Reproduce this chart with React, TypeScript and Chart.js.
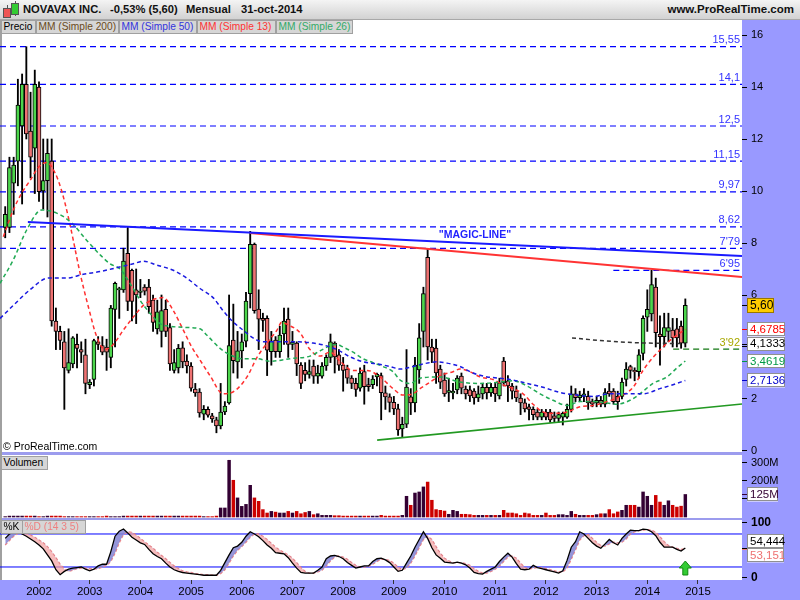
import React, { useEffect, useRef } from 'react';
import { Chart, registerables } from 'chart.js';

Chart.register(...registerables);

const FONT = '"Liberation Sans", Arial, Helvetica, sans-serif';
Chart.defaults.font.family = FONT;
Chart.defaults.font.size = 11;
Chart.defaults.color = '#000';

// ---------------- DATA ----------------
const firstYear = 2001;
const firstMonth = 5; // May 2001, monthly candles
const yearTicks = [2002, 2003, 2004, 2005, 2006, 2007, 2008, 2009, 2010, 2011, 2012, 2013, 2014, 2015];
const priceTicks = [0, 2, 4, 6, 8, 10, 12, 14, 16];
const volumeTicks = [100, 200, 300];
const stochTicks = [0, 100];

const opens = [
  8.6, 8.6, 10.3, 11.15, 12.5, 14.1, 12.3, 11.65, 14.0, 10.0,
  10.4, 11.15, 5.0, 4.6, 4.2, 3.1, 3.35, 4.1, 3.9, 3.7,
  2.55, 2.75, 4.2, 4.05, 4.0, 3.6, 5.45, 6.2, 6.2, 7.6,
  6.95, 6.2, 6.1, 6.3, 6.3, 5.8, 4.7, 4.6, 5.45, 4.75,
  3.1, 3.2, 3.97, 3.46, 3.27, 2.38, 2.27, 1.42, 1.6, 1.35,
  1.2, 0.96, 1.5, 1.85, 4.27, 3.43, 3.85, 4.22, 6.05, 7.95,
  5.46, 5.1, 5.1, 3.82, 4.27, 3.82, 4.5, 5.07, 4.1, 4.15,
  3.3, 3.1, 2.95, 3.27, 2.88, 2.88, 3.27, 3.6, 4.15, 3.7,
  3.3, 3.15, 2.8, 2.6, 2.42, 3.05, 2.55, 2.55, 2.85, 2.9,
  2.24, 2.08, 1.87, 1.62, 0.85, 1.03, 2.08, 1.85, 3.12, 4.6,
  7.45, 4.0, 3.96, 3.15, 2.73, 2.25, 2.23, 2.35, 2.88, 2.38,
  2.35, 2.3, 2.04, 2.2, 2.45, 2.23, 2.45, 2.12, 3.46, 2.7,
  2.5, 2.3, 2.04, 1.85, 1.7, 1.6, 1.5, 1.3, 1.5, 1.5,
  1.35, 1.25, 1.3, 1.3, 1.6, 2.2, 2.05, 2.1, 2.1, 1.9,
  1.85, 1.95, 1.8, 2.3, 2.3, 2.1, 2.1, 2.75, 3.25, 3.1,
  3.05, 3.75, 5.15, 5.27, 6.3, 4.5, 4.4, 4.6, 4.65, 4.7,
  4.8, 4.15,
];
const highs = [
  9.4, 11.3, 11.3, 14.3, 14.5, 15.55, 13.8, 14.65, 14.2, 12.0,
  12.0, 12.0, 5.5, 4.8, 4.6, 4.7, 4.4, 4.5, 4.2, 4.3,
  2.75, 4.3, 4.4, 4.4, 4.3, 5.6, 6.5, 6.3, 7.8, 8.62,
  7.0, 7.0, 6.6, 6.4, 6.6, 6.0, 5.8, 6.0, 5.8, 4.9,
  3.9, 4.1, 4.2, 3.7, 3.4, 2.6, 2.4, 1.75, 1.7, 1.45,
  1.3, 2.6, 1.9, 6.0, 5.65, 4.6, 4.5, 6.1, 8.45, 8.0,
  6.2, 5.3, 5.2, 4.6, 4.4, 4.8, 5.5, 5.5, 4.6, 4.2,
  3.4, 3.4, 3.5, 3.5, 3.3, 3.4, 3.7, 4.5, 4.2, 3.9,
  3.6, 3.3, 2.9, 2.8, 3.2, 3.3, 2.8, 2.9, 3.0, 3.0,
  2.5, 2.2, 2.1, 1.8, 1.3, 3.9, 2.4, 3.6, 4.9, 6.3,
  7.79, 4.3, 4.3, 3.3, 3.0, 2.8, 2.6, 2.9, 3.0, 2.5,
  2.5, 2.4, 2.5, 2.6, 2.6, 2.6, 2.6, 2.8, 3.6, 2.9,
  2.6, 2.5, 2.2, 2.0, 1.8, 1.7, 1.6, 1.6, 1.6, 1.6,
  1.5, 1.5, 1.5, 1.8, 2.5, 2.4, 2.3, 2.4, 2.3, 2.0,
  2.1, 2.1, 2.4, 2.6, 2.4, 2.3, 2.8, 3.4, 3.3, 3.2,
  3.9, 5.2, 6.2, 6.95, 6.65, 5.2, 5.3, 5.3, 5.1, 5.1,
  5.0, 5.85,
];
const lows = [
  8.2, 8.4, 9.1, 10.2, 9.5, 12.0, 10.5, 9.9, 9.6, 9.3,
  9.0, 4.8, 3.9, 3.9, 1.6, 3.0, 3.2, 3.2, 3.4, 2.2,
  2.4, 2.5, 3.9, 3.7, 3.1, 3.2, 4.0, 5.1, 6.1, 5.4,
  5.0, 4.9, 5.9, 6.0, 5.3, 4.6, 4.5, 4.0, 4.4, 3.1,
  3.0, 3.0, 3.2, 3.0, 2.3, 2.1, 1.3, 1.2, 1.3, 1.1,
  0.7, 0.85, 1.4, 1.8, 3.0, 2.8, 3.2, 4.0, 5.5, 5.3,
  3.9, 4.6, 2.9, 3.3, 3.6, 3.6, 4.1, 3.6, 3.9, 2.9,
  2.4, 2.7, 2.8, 2.6, 2.6, 2.8, 3.1, 3.4, 3.0, 3.1,
  2.3, 2.6, 2.4, 2.1, 2.3, 1.8, 2.3, 2.4, 2.5, 1.2,
  1.6, 1.5, 1.4, 0.6, 0.55, 0.9, 1.4, 1.5, 2.6, 4.0,
  3.5, 3.4, 2.6, 2.4, 2.1, 1.9, 2.0, 2.2, 2.2, 2.0,
  1.9, 1.8, 1.9, 2.0, 2.0, 2.1, 1.9, 2.0, 2.5, 1.9,
  2.0, 1.9, 1.4, 1.5, 1.2, 1.2, 1.2, 1.2, 1.2, 1.1,
  1.1, 1.1, 1.0, 1.25, 1.5, 1.9, 1.9, 1.9, 1.6, 1.7,
  1.7, 1.7, 1.7, 2.1, 1.8, 1.6, 2.0, 2.5, 2.8, 2.7,
  2.8, 3.5, 4.6, 5.0, 4.0, 3.3, 4.0, 4.2, 4.0, 4.0,
  3.95, 4.0,
];
const closes = [
  9.1, 10.9, 11.0, 13.3, 14.1, 12.2, 11.3, 14.1, 9.97, 10.4,
  11.45, 5.0, 4.6, 4.25, 3.2, 3.4, 4.35, 3.95, 3.8, 2.6,
  2.65, 4.25, 4.1, 3.8, 3.8, 5.5, 6.45, 6.25, 7.3, 5.75,
  5.75, 6.0, 6.15, 6.15, 5.55, 4.95, 5.35, 5.4, 4.6, 3.35,
  3.4, 3.95, 3.43, 3.27, 2.42, 2.23, 1.46, 1.6, 1.38, 1.23,
  0.96, 1.5, 1.73, 4.05, 3.47, 3.85, 4.2, 5.77, 7.95, 5.4,
  5.07, 5.02, 3.88, 4.23, 3.82, 4.46, 5.0, 4.1, 4.18, 3.35,
  2.6, 2.95, 3.05, 2.88, 3.0, 3.27, 3.6, 4.2, 3.62, 3.3,
  3.1, 2.8, 2.6, 2.37, 3.0, 2.47, 2.47, 2.77, 2.95, 2.24,
  2.08, 1.87, 1.62, 0.81, 1.03, 2.46, 1.85, 3.3, 4.35, 6.05,
  4.0, 3.8, 3.0, 2.65, 2.2, 2.32, 2.3, 2.8, 2.42, 2.2,
  2.12, 2.04, 2.2, 2.45, 2.23, 2.45, 2.2, 2.62, 2.62, 2.5,
  2.3, 2.04, 1.85, 1.62, 1.6, 1.4, 1.3, 1.5, 1.3, 1.2,
  1.25, 1.4, 1.45, 1.6, 2.2, 2.05, 2.15, 2.2, 1.85, 1.8,
  1.95, 1.8, 2.25, 2.2, 1.9, 1.9, 2.65, 3.15, 3.1, 3.05,
  3.7, 5.1, 5.45, 6.4, 4.55, 4.4, 4.75, 4.75, 4.35, 4.35,
  4.15, 5.6,
];
// monthly volume, millions
const volumes = [
  2, 5, 5, 5, 5, 5, 5, 5, 2, 2,
  5, 5, 5, 5, 2, 2, 2, 2, 2, 2,
  2, 2, 2, 2, 5, 2, 2, 2, 5, 5,
  5, 5, 5, 5, 5, 5, 5, 5, 5, 5,
  5, 5, 5, 5, 5, 5, 5, 2, 2, 2,
  5, 50, 50, 315, 204, 106, 59, 70, 176, 106,
  87, 41, 22, 31, 27, 22, 22, 31, 22, 31,
  18, 25, 31, 13, 18, 9, 9, 9, 7, 7,
  5, 5, 5, 5, 5, 5, 5, 5, 5, 9,
  5, 5, 5, 5, 9, 115, 65, 133, 139, 167,
  194, 93, 41, 37, 33, 15, 37, 31, 15, 15,
  13, 9, 9, 9, 9, 9, 9, 9, 37, 22,
  22, 18, 9, 22, 18, 9, 9, 9, 22, 9,
  9, 13, 13, 9, 31, 15, 9, 9, 9, 9,
  13, 18, 18, 41, 18, 28, 37, 65, 65, 65,
  55, 139, 115, 65, 120, 83, 65, 90, 65, 55,
  60, 125,
];
const stochK = [
  72, 80, 83, 84, 80, 76, 71, 66, 60, 53,
  42, 31, 15, 6, 12, 16, 18, 19, 20, 16,
  13, 16, 22, 25, 25, 48, 76, 85, 89, 82,
  74, 69, 64, 61, 52, 44, 39, 35, 27, 20,
  15, 12, 10, 9, 8, 7, 6, 5, 5, 5,
  5, 14, 28, 42, 55, 58, 65, 76, 84, 80,
  75, 68, 60, 54, 46, 45, 44, 37, 27, 18,
  10, 9, 9, 9, 14, 20, 35, 40, 41, 39,
  35, 28, 23, 18, 20, 22, 22, 30, 35, 36,
  33, 28, 20, 12, 14, 27, 40, 56, 70, 84,
  72, 55, 42, 36, 29, 28, 27, 29, 27, 24,
  18, 10, 8, 7, 12, 16, 20, 30, 38, 45,
  38, 26, 16, 15, 16, 23, 19, 17, 15, 13,
  11, 9, 13, 32, 56, 66, 84, 80, 72, 64,
  58, 54, 62, 70, 64, 60, 72, 80, 87, 86,
  86, 89, 88, 84, 77, 65, 56, 56, 56, 52,
  49, 54.444,
];
const stochD = [
  60, 68, 76, 81, 83, 81, 78, 74, 69, 64,
  57, 48, 37, 25, 16, 12, 14, 17, 18, 18,
  17, 16, 17, 20, 23, 30, 45, 64, 79, 84,
  83, 78, 72, 66, 60, 54, 47, 41, 35, 28,
  22, 17, 13, 11, 10, 8, 7, 6, 6, 5,
  5, 8, 15, 27, 40, 50, 57, 65, 74, 80,
  80, 76, 70, 63, 56, 51, 46, 42, 36, 28,
  19, 12, 9, 9, 11, 14, 22, 31, 38, 40,
  38, 34, 28, 23, 20, 20, 21, 25, 30, 34,
  34, 32, 27, 20, 15, 18, 27, 40, 55, 70,
  76, 70, 57, 45, 36, 31, 28, 28, 28, 26,
  23, 17, 12, 9, 9, 12, 16, 22, 30, 38,
  40, 36, 27, 19, 16, 18, 19, 19, 17, 15,
  13, 11, 11, 18, 34, 51, 69, 77, 79, 72,
  65, 59, 58, 62, 65, 64, 65, 71, 80, 84,
  86, 87, 88, 87, 83, 75, 66, 59, 56, 54,
  52, 53.151,
];

// moving averages: [year, value]
const ma13 = [
  [2001.296, 8.24], [2001.493, 9.27], [2001.659, 9.92], [2001.822, 10.4], [2001.986, 10.9],
  [2002.152, 11.1], [2002.316, 10.7], [2002.448, 10.0], [2002.578, 9.0], [2002.677, 8.1],
  [2002.809, 6.85], [2002.973, 5.55], [2003.138, 4.4], [2003.302, 3.9], [2003.466, 4.1],
  [2003.663, 4.65], [2003.86, 5.15], [2004.058, 5.6], [2004.223, 5.8], [2004.452, 5.9],
  [2004.649, 5.4], [2004.847, 4.65], [2005.013, 4.0], [2005.176, 3.5], [2005.373, 2.9],
  [2005.63, 2.2], [2005.827, 2.27], [2006.103, 2.85], [2006.3, 3.6], [2006.498, 4.15],
  [2006.695, 4.65], [2006.788, 4.95], [2006.912, 4.85], [2007.149, 4.55], [2007.346, 3.9],
  [2007.544, 3.65], [2007.741, 3.8], [2007.938, 3.45], [2008.195, 3.1], [2008.471, 3.1],
  [2008.727, 2.85], [2008.984, 2.4], [2009.181, 2.15], [2009.378, 2.2], [2009.516, 2.4],
  [2009.714, 2.65], [2009.911, 2.9], [2010.167, 3.05], [2010.305, 3.15], [2010.503, 3.05],
  [2010.7, 2.85], [2010.957, 2.75], [2011.154, 2.55], [2011.351, 2.4], [2011.549, 2.2],
  [2011.746, 1.8], [2011.943, 1.5], [2012.14, 1.45], [2012.417, 1.5], [2012.673, 1.7],
  [2012.93, 1.75], [2013.206, 1.9], [2013.462, 2.1], [2013.719, 2.45], [2013.916, 3.1],
  [2014.113, 3.6], [2014.31, 4.0], [2014.507, 4.35], [2014.75, 4.6785],
];
const ma26 = [
  [2001.231, 6.45], [2001.493, 7.35], [2001.757, 8.5], [2002.053, 9.27], [2002.349, 9.15],
  [2002.645, 8.77], [2002.941, 8.1], [2003.203, 7.55], [2003.401, 7.2], [2003.598, 7.0],
  [2003.795, 6.45], [2003.993, 5.8], [2004.19, 5.3], [2004.387, 4.9], [2004.584, 4.8],
  [2004.92, 4.75], [2005.176, 4.7], [2005.314, 4.45], [2005.571, 3.95], [2005.768, 3.7],
  [2006.025, 3.55], [2006.3, 3.55], [2006.557, 3.45], [2006.952, 3.55], [2007.346, 3.65],
  [2007.544, 3.85], [2007.741, 4.05], [2007.879, 4.1], [2007.997, 4.0], [2008.195, 3.8],
  [2008.392, 3.55], [2008.589, 3.4], [2008.786, 3.25], [2008.984, 3.05], [2009.122, 2.73],
  [2009.319, 2.6], [2009.516, 2.8], [2009.911, 2.85], [2010.305, 2.65], [2010.7, 2.6],
  [2011.095, 2.65], [2011.351, 2.7], [2011.627, 2.5], [2011.884, 2.2], [2012.14, 1.95],
  [2012.417, 1.75], [2012.673, 1.9], [2012.93, 1.9], [2013.206, 1.85], [2013.403, 1.8],
  [2013.659, 1.95], [2013.856, 2.2], [2014.113, 2.6], [2014.389, 2.85], [2014.586, 3.2],
  [2014.75, 3.4619],
];
const ma50 = [
  [2001.231, 5.1], [2001.493, 5.6], [2001.822, 6.2], [2002.183, 6.65], [2002.546, 6.65],
  [2002.874, 6.8], [2003.203, 6.9], [2003.533, 7.05], [2003.86, 7.2], [2004.058, 7.3],
  [2004.322, 7.15], [2004.649, 6.95], [2004.914, 6.65], [2005.176, 6.25], [2005.433, 5.9],
  [2005.63, 5.4], [2005.827, 4.97], [2006.025, 4.65], [2006.222, 4.35], [2006.419, 4.2],
  [2006.695, 4.2], [2007.09, 4.2], [2007.406, 4.15], [2007.603, 4.08], [2007.879, 3.9],
  [2008.136, 3.62], [2008.392, 3.43], [2008.668, 3.35], [2008.924, 3.25], [2009.122, 3.15],
  [2009.378, 3.25], [2009.654, 3.38], [2009.852, 3.43], [2010.049, 3.38], [2010.305, 3.25],
  [2010.562, 3.0], [2010.838, 2.85], [2011.095, 2.8], [2011.351, 2.73], [2011.627, 2.6],
  [2011.943, 2.45], [2012.278, 2.25], [2012.614, 2.15], [2012.93, 2.1], [2013.265, 2.2],
  [2013.6, 2.2], [2013.916, 2.2], [2014.251, 2.4], [2014.507, 2.55], [2014.75, 2.7136],
];
const ma200 = [
  [2012.515, 4.35], [2013.068, 4.25], [2013.719, 4.17], [2014.389, 4.14], [2014.75, 4.1333],
];

// horizontal levels drawn on the chart
const levelValues = [15.55, 14.1, 12.5, 11.15, 9.97, 8.62, 7.79, 6.95, 3.92];
const levelLabels = ['15,55', '14,1', '12,5', '11,15', '9,97', '8,62', "7'79", "6'95", "3'92"];
const levelStarts = [null, null, null, null, null, null, null, 2013.33, 2014.51];

// trend lines [year, value]
const magicLine = [[2001.78, 8.81], [2015.868, 7.5]];
const resistanceLine = [[2006.16, 8.38], [2015.868, 6.69]];
const supportLine = [[2008.67, 0.42], [2015.868, 1.81]];
const magicLabel = { x: 2010.6, y: 8.31, text: '"MAGIC-LINE"' };

// ---------------- helpers ----------------
const X_MIN = 2001.2306;
const X_MAX = 2015.868;
const AXIS_W = 58;
const candleX = (i: number) => firstYear + (firstMonth - 1 + i) / 12;
const pts = (arr: number[][]) => arr.map(([x, y]) => ({ x, y }));
const fmt = (v: number, d: number) => v.toFixed(d).replace('.', ',');

function rightAxis(min: number, max: number, ticks: number[], labelFn: (v: number) => string, bold = false) {
  return {
    type: 'linear',
    position: 'right',
    min,
    max,
    afterBuildTicks: (s: any) => {
      s.ticks = ticks.map((value) => ({ value }));
    },
    afterFit: (s: any) => {
      s.width = AXIS_W;
      s.paddingTop = 0;
      s.paddingBottom = 0;
    },
    ticks: {
      color: '#000',
      padding: 4,
      font: { size: bold ? 12 : 11, weight: bold ? 'bold' : 'normal' },
      callback: (v: any) => labelFn(Number(v)),
    },
    grid: { drawOnChartArea: false, drawTicks: true, tickLength: 5, color: '#000' },
    border: { display: false },
  };
}

const hiddenX = { type: 'linear', min: X_MIN, max: X_MAX, display: false, offset: false };

function drawBox(ctx: CanvasRenderingContext2D, x: number, yc: number, w: number, h: number, text: string, color: string, bg: string, border: string, font: string) {
  ctx.fillStyle = bg;
  ctx.fillRect(x, yc - h / 2, w, h);
  ctx.strokeStyle = border;
  ctx.lineWidth = 1;
  ctx.strokeRect(Math.round(x) + 0.5, Math.round(yc - h / 2) + 0.5, w - 1, h - 1);
  ctx.fillStyle = color;
  ctx.font = font;
  ctx.textAlign = 'left';
  ctx.textBaseline = 'middle';
  ctx.fillText(text, x + 3, yc + 0.5);
}

function tickMark(ctx: CanvasRenderingContext2D, x: number, y: number, color: string) {
  ctx.strokeStyle = color;
  ctx.lineWidth = 1;
  ctx.beginPath();
  ctx.moveTo(x, Math.round(y) + 0.5);
  ctx.lineTo(x + 5, Math.round(y) + 0.5);
  ctx.stroke();
}

// ---------------- chart configs ----------------
function priceConfig() {
  const last = closes.length - 1;
  const lastOf = (a: number[][]) => a[a.length - 1][1];
  const boxes = [
    { v: closes[last], text: fmt(closes[last], 2), color: '#000', bg: '#ffcc00', border: '#997700', w: 27, h: 15 },
    { v: lastOf(ma13), text: fmt(lastOf(ma13), 4), color: '#ff0000', bg: '#fff', border: '#909090', w: 38, h: 14 },
    { v: lastOf(ma200), text: fmt(lastOf(ma200), 4), color: '#000', bg: '#fff', border: '#909090', w: 38, h: 14 },
    { v: lastOf(ma26), text: fmt(lastOf(ma26), 4), color: '#009944', bg: '#fff', border: '#909090', w: 38, h: 14 },
    { v: lastOf(ma50), text: fmt(lastOf(ma50), 4), color: '#0000cc', bg: '#fff', border: '#909090', w: 38, h: 14 },
  ];

  const levelDatasets = levelValues.map((lv, k) => ({
    type: 'line',
    data: [{ x: levelStarts[k] ?? X_MIN, y: lv }, { x: X_MAX, y: lv }],
    borderColor: lv === 3.92 ? '#117711' : '#0000ff',
    borderWidth: 1.2,
    borderDash: [6, 4],
    pointRadius: 0,
    fill: false,
    order: 30,
  }));

  const maDs = (data: number[][], color: string) => ({
    type: 'line',
    data: pts(data),
    borderColor: color,
    borderWidth: 1.5,
    borderDash: [4, 3],
    pointRadius: 0,
    fill: false,
    cubicInterpolationMode: 'monotone',
    order: -1,
  });

  const trendDs = (data: number[][], color: string, width: number) => ({
    type: 'line',
    data: pts(data),
    borderColor: color,
    borderWidth: width,
    pointRadius: 0,
    fill: false,
    order: -2,
  });

  const annotations = {
    id: 'priceAnnotations',
    afterDraw(chart: any) {
      const { ctx, chartArea, scales } = chart;
      const xs = scales.x;
      const ys = scales.y;
      ctx.save();
      ctx.font = `11px ${FONT}`;
      ctx.textAlign = 'right';
      ctx.textBaseline = 'bottom';
      levelValues.forEach((lv, k) => {
        ctx.fillStyle = lv === 3.92 ? '#a8a800' : '#3333ff';
        ctx.fillText(levelLabels[k], chartArea.right - 2, ys.getPixelForValue(lv) - 1);
      });
      ctx.font = `bold 10.5px ${FONT}`;
      ctx.textAlign = 'center';
      ctx.textBaseline = 'middle';
      ctx.fillStyle = '#2222ff';
      ctx.fillText(magicLabel.text, xs.getPixelForValue(magicLabel.x), ys.getPixelForValue(magicLabel.y));
      boxes.forEach((b) => {
        const y = ys.getPixelForValue(b.v);
        tickMark(ctx, chartArea.right, y, b.color);
        drawBox(ctx, chartArea.right + 5, y, b.w, b.h, b.text, b.color, b.bg, b.border, `${b.bg === '#ffcc00' ? 12 : 11.5}px ${FONT}`);
      });
      ctx.restore();
    },
  };

  return {
    type: 'bar',
    data: {
      datasets: [
        {
          type: 'bar',
          data: opens.map((_, i) => ({ x: candleX(i), y: [lows[i], highs[i]] })),
          backgroundColor: '#000',
          barThickness: 1.2,
          grouped: false,
          order: 10,
        },
        {
          type: 'bar',
          data: opens.map((o, i) => ({ x: candleX(i), y: [o, closes[i]] })),
          backgroundColor: opens.map((o, i) => (closes[i] >= o ? '#4cd64c' : '#ee7272')),
          borderColor: '#000',
          borderWidth: 1,
          borderSkipped: false,
          barThickness: 4,
          grouped: false,
          order: 0,
        },
        ...levelDatasets,
        maDs(ma200, '#333333'),
        maDs(ma50, '#1a1ae0'),
        maDs(ma26, '#22aa55'),
        maDs(ma13, '#ff3030'),
        trendDs(magicLine, '#1a1aff', 2),
        trendDs(resistanceLine, '#ff3333', 2),
        trendDs(supportLine, '#229922', 1.6),
      ],
    },
    options: {
      animation: false,
      responsive: false,
      events: [],
      layout: { padding: { top: 0, bottom: 8, left: 0, right: 0 } },
      plugins: { legend: { display: false }, tooltip: { enabled: false } },
      scales: {
        x: hiddenX,
        y: rightAxis(-0.0385, 16.577, priceTicks, (v) => String(v)),
      },
    },
    plugins: [annotations],
  };
}

function volumeConfig() {
  const last = volumes.length - 1;
  const annotations = {
    id: 'volAnnotations',
    afterDraw(chart: any) {
      const { ctx, chartArea, scales } = chart;
      const y = scales.y.getPixelForValue(volumes[last]);
      ctx.save();
      tickMark(ctx, chartArea.right, y, '#330033');
      drawBox(ctx, chartArea.right + 5, y, 31, 14, `${volumes[last]}M`, '#330033', '#fff', '#909090', `11.5px ${FONT}`);
      ctx.restore();
    },
  };
  return {
    type: 'bar',
    data: {
      datasets: [
        {
          data: volumes.map((v, i) => ({ x: candleX(i), y: v })),
          backgroundColor: opens.map((o, i) => (closes[i] >= o ? '#330033' : '#cc0000')),
          barThickness: 2.8,
          grouped: false,
        },
      ],
    },
    options: {
      animation: false,
      responsive: false,
      events: [],
      layout: { padding: 0 },
      plugins: { legend: { display: false }, tooltip: { enabled: false } },
      scales: {
        x: hiddenX,
        y: rightAxis(-5.6, 344.4, volumeTicks, (v) => (v >= 200 ? `${v}M` : '')),
      },
    },
    plugins: [annotations],
  };
}

function stochConfig() {
  const last = stochK.length - 1;
  const annotations = {
    id: 'stochAnnotations',
    afterDraw(chart: any) {
      const { ctx, chartArea, scales } = chart;
      const ys = scales.y;
      const xs = scales.x;
      const yk = ys.getPixelForValue(stochK[last]);
      const yd = ys.getPixelForValue(stochD[last]);
      const mid = (yk + yd) / 2;
      ctx.save();
      tickMark(ctx, chartArea.right, yk, '#000');
      tickMark(ctx, chartArea.right, yd, '#ee8080');
      drawBox(ctx, chartArea.right + 5, mid - 7, 37, 14, fmt(stochK[last], 3), '#000', '#fff', '#909090', `11.5px ${FONT}`);
      drawBox(ctx, chartArea.right + 5, mid + 7, 37, 14, fmt(stochD[last], 3), '#ee7070', '#fff', '#909090', `11.5px ${FONT}`);
      // green arrow under the last bar
      const ax = xs.getPixelForValue(candleX(last));
      const bottom = chartArea.bottom - 5;
      const top = chartArea.bottom - 19;
      ctx.beginPath();
      ctx.moveTo(ax, top);
      ctx.lineTo(ax + 6, top + 7);
      ctx.lineTo(ax + 2.5, top + 7);
      ctx.lineTo(ax + 2.5, bottom);
      ctx.lineTo(ax - 2.5, bottom);
      ctx.lineTo(ax - 2.5, top + 7);
      ctx.lineTo(ax - 6, top + 7);
      ctx.closePath();
      ctx.fillStyle = '#33cc33';
      ctx.fill();
      ctx.strokeStyle = '#118811';
      ctx.lineWidth = 1;
      ctx.stroke();
      ctx.restore();
    },
  };
  const hline = (v: number) => ({
    data: [{ x: X_MIN, y: v }, { x: X_MAX, y: v }],
    borderColor: '#0000ff',
    borderWidth: 1,
    pointRadius: 0,
    fill: false,
    order: 2,
  });
  return {
    type: 'line',
    data: {
      datasets: [
        {
          data: stochK.map((v, i) => ({ x: candleX(i), y: v })),
          borderColor: '#000',
          borderWidth: 1.3,
          pointRadius: 0,
          fill: { target: 1, above: 'rgba(130,130,210,0.85)', below: 'rgba(242,160,160,0.7)' },
          order: 0,
        },
        {
          data: stochD.map((v, i) => ({ x: candleX(i), y: v })),
          borderColor: '#ee8080',
          borderWidth: 1.3,
          borderDash: [3, 2],
          pointRadius: 0,
          fill: false,
          order: 1,
        },
        hline(80),
        hline(20),
      ],
    },
    options: {
      animation: false,
      responsive: false,
      events: [],
      layout: { padding: { top: 8, bottom: 0, left: 0, right: 0 } },
      plugins: { legend: { display: false }, tooltip: { enabled: false } },
      scales: {
        x: {
          type: 'linear',
          position: 'bottom',
          min: X_MIN,
          max: X_MAX,
          offset: false,
          afterBuildTicks: (s: any) => {
            s.ticks = yearTicks.map((value) => ({ value }));
          },
          afterFit: (s: any) => {
            s.height = 20;
            s.paddingLeft = 0;
            s.paddingRight = 0;
          },
          ticks: { color: '#000', padding: 1, autoSkip: false, maxRotation: 0, font: { size: 11.5 }, callback: (v: any) => String(v) },
          grid: { drawOnChartArea: false, drawTicks: true, tickLength: 4, color: '#333' },
          border: { display: false },
        },
        y: rightAxis(-3.64, 105.45, stochTicks, (v) => String(v), true),
      },
    },
    plugins: [annotations],
  };
}

// ---------------- UI ----------------
const abs = (left: number, top: number, extra: any = {}) => ({ position: 'absolute' as const, left, top, ...extra });

function Tab({ left, top, width, text, color }: { left: number; top: number; width: number; text: string; color: string }) {
  return (
    <div
      style={abs(left, top, {
        width,
        height: 14,
        boxSizing: 'border-box',
        background: '#d6d6d6',
        border: '1px solid #a0a0a0',
        color,
        fontSize: 10.2,
        lineHeight: '12px',
        paddingLeft: 1.5,
        whiteSpace: 'nowrap',
        overflow: 'hidden',
        zIndex: 3,
      })}
    >
      {text}
    </div>
  );
}

export default function App() {
  const priceRef = useRef<HTMLCanvasElement>(null);
  const volRef = useRef<HTMLCanvasElement>(null);
  const stochRef = useRef<HTMLCanvasElement>(null);

  useEffect(() => {
    const charts: Chart[] = [];
    if (priceRef.current) charts.push(new Chart(priceRef.current, priceConfig() as any));
    if (volRef.current) charts.push(new Chart(volRef.current, volumeConfig() as any));
    if (stochRef.current) charts.push(new Chart(stochRef.current, stochConfig() as any));
    return () => charts.forEach((c) => c.destroy());
  }, []);

  const canvasStyle = (top: number, height: number) => abs(0, top, { width: 800, height, zIndex: 2 });

  return (
    <div style={{ position: 'fixed', left: 0, top: 0, width: 800, height: 600, background: '#fff', overflow: 'hidden', fontFamily: FONT }}>
      {/* backgrounds */}
      <div style={abs(742, 20, { width: 58, height: 580, background: '#9999ff' })} />
      <div style={abs(0, 580, { width: 800, height: 20, background: '#9999ff' })} />
      <div style={abs(0, 452, { width: 742, height: 3, background: '#9c9cee' })} />
      <div style={abs(0, 517.5, { width: 742, height: 2.5, background: '#9c9cee' })} />
      <div style={abs(0, 20, { width: 1.5, height: 560, background: '#a0a0a0' })} />

      <canvas ref={priceRef} width={800} height={440} style={canvasStyle(20, 440)} />
      <canvas ref={volRef} width={800} height={63} style={canvasStyle(455, 63)} />
      <canvas ref={stochRef} width={800} height={88} style={canvasStyle(512, 88)} />

      {/* header */}
      <div style={abs(0, 0, { width: 800, height: 19, background: 'linear-gradient(#f4f4f4, #d2d2d2)', borderBottom: '1px solid #a8a8a8', zIndex: 3 })}>
        <div style={abs(6.5, 5, { width: 1, height: 13, background: '#555' })} />
        <div style={abs(3, 8, { width: 6, height: 8, background: '#ee5555', border: '1px solid #555' })} />
        <div style={abs(14.5, 1, { width: 1, height: 15, background: '#555' })} />
        <div style={abs(11, 3, { width: 6, height: 10, background: '#33cc33', border: '1px solid #555' })} />
        <span style={abs(23, 3, { fontSize: 11.2, fontWeight: 'bold', color: '#111', whiteSpace: 'nowrap' })}>NOVAVAX INC.</span>
        <span style={abs(110, 3, { fontSize: 11.2, fontWeight: 'bold', color: '#111', whiteSpace: 'nowrap' })}>-0,53% (5,60)</span>
        <span style={abs(186, 3, { fontSize: 11.2, fontWeight: 'bold', color: '#111', whiteSpace: 'nowrap' })}>Mensual</span>
        <span style={abs(241, 3, { fontSize: 11.2, fontWeight: 'bold', color: '#111', whiteSpace: 'nowrap' })}>31-oct-2014</span>
        <span style={{ position: 'absolute', right: 6, top: 3, fontSize: 11.5, fontWeight: 'bold', color: '#111', whiteSpace: 'nowrap' }}>www.ProRealTime.com</span>
      </div>

      {/* legend tabs */}
      <Tab left={1} top={20} width={35} text="Precio" color="#000" />
      <Tab left={36} top={20} width={83} text="MM (Simple 200)" color="#6a4a1a" />
      <Tab left={119} top={20} width={78} text="MM (Simple 50)" color="#3333dd" />
      <Tab left={197} top={20} width={79} text="MM (Simple 13)" color="#ff3333" />
      <Tab left={276} top={20} width={77} text="MM (Simple 26)" color="#33aa66" />

      <Tab left={1} top={456} width={47} text="Volumen" color="#000" />
      <Tab left={1} top={520} width={22} text="%K" color="#000" />
      <Tab left={22} top={520} width={64} text="%D (14 3 5)" color="#ee8080" />

      <span style={abs(3, 440, { fontSize: 10.5, color: '#000', zIndex: 3, whiteSpace: 'nowrap' })}>© ProRealTime.com</span>
    </div>
  );
}
